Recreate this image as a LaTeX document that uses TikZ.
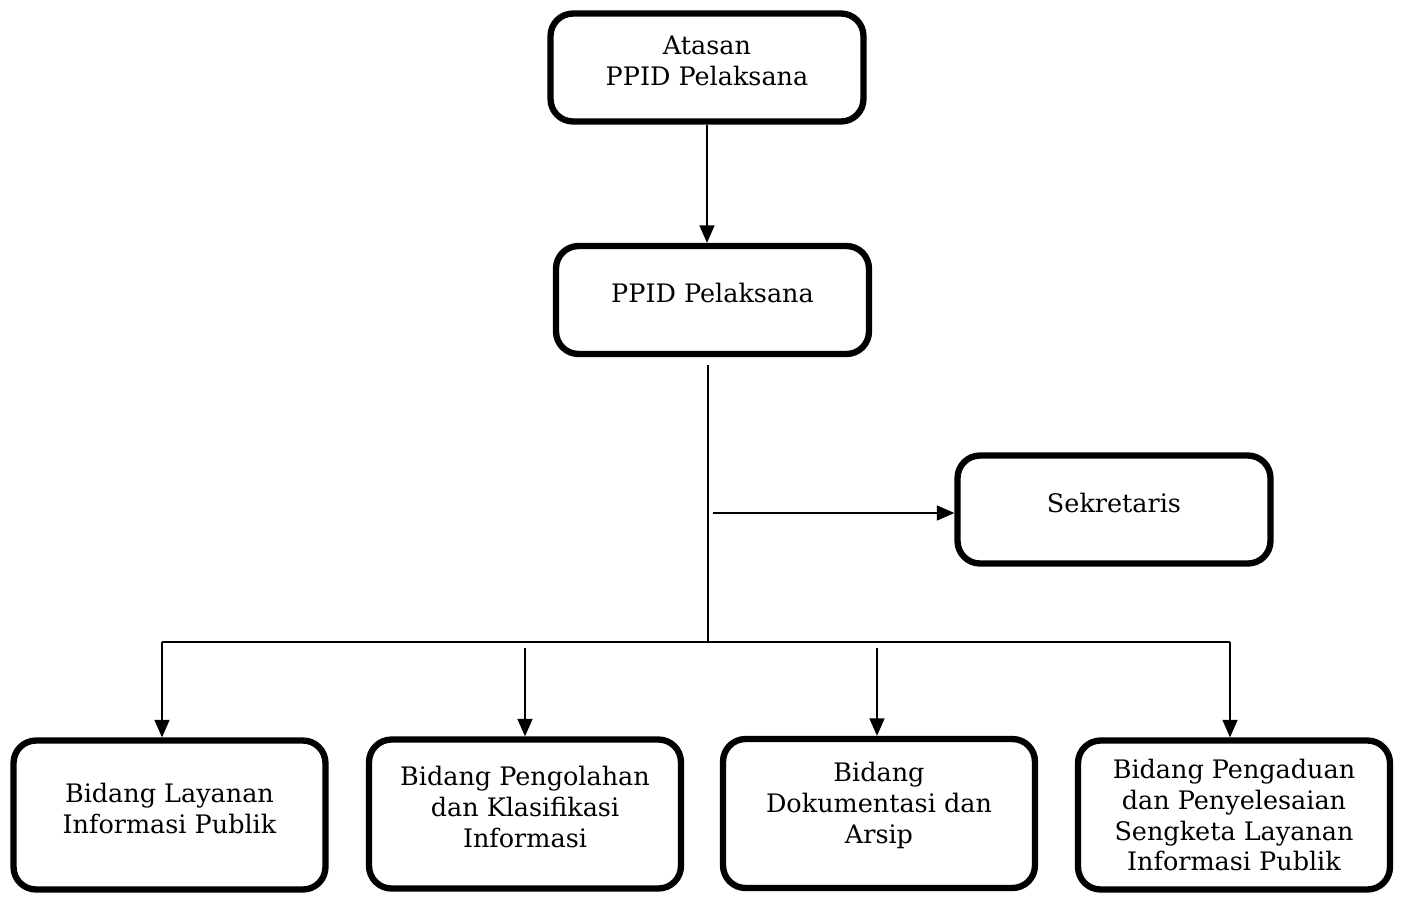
\documentclass[tikz,border=0pt]{standalone}
\usepackage{fontspec}
\setmainfont{DejaVu Serif}
\usetikzlibrary{arrows.meta}
\begin{document}
\begin{tikzpicture}[x=0.02cm,y=-0.02cm,
  box/.style={draw, line width=3.6pt, rounded corners=0.45cm, align=center,
    font=\fontsize{14.5}{17.5}\selectfont, inner sep=0pt, text depth=8pt},
  topbox/.style={box, minimum width=6.26cm, minimum height=2.16cm},
  botbox/.style={box, minimum width=6.24cm, minimum height=2.98cm},
  conn/.style={line width=1.1pt, -{Triangle[length=10pt,width=8.5pt]}},
  plain/.style={line width=1pt}]
\useasboundingbox (0,0) rectangle (1403,897);
\node[topbox] (A) at (707,67.5) {Atasan\\PPID Pelaksana};
\node[topbox] (B) at (712.5,300) {PPID Pelaksana};
\node[topbox] (S) at (1114,509.5) {Sekretaris};
\node[botbox] (L1) at (169.5,815) {Bidang Layanan\\Informasi Publik};
\node[botbox] (L2) at (525,814) {Bidang Pengolahan\\dan Klasifikasi\\Informasi};
\node[botbox, text depth=12pt] (L3) at (879,813.5) {Bidang\\Dokumentasi dan\\Arsip};
\node[botbox, text depth=0pt] (L4) at (1234,815) {Bidang Pengaduan\\dan Penyelesaian\\Sengketa Layanan\\Informasi Publik};
\coordinate (trunkTop) at (708,365);
\coordinate (trunkBot) at (708,642);
\coordinate (busL) at (162,642);
\coordinate (busR) at (1230,642);
\coordinate (sekStart) at (713,513);
\coordinate (s2) at (525,648);
\coordinate (s3) at (877,648);
\draw[conn] (A.south -| 707,0) -- (B.north -| 707,0);
\draw[plain] (trunkTop) -- (trunkBot);
\draw[plain] (busL) -- (busR);
\draw[conn] (sekStart) -- (sekStart -| S.west);
\draw[conn] (busL) -- (busL |- L1.north);
\draw[conn] (s2) -- (s2 |- L2.north);
\draw[conn] (s3) -- (s3 |- L3.north);
\draw[conn] (busR) -- (busR |- L4.north);
\end{tikzpicture}
\end{document}
